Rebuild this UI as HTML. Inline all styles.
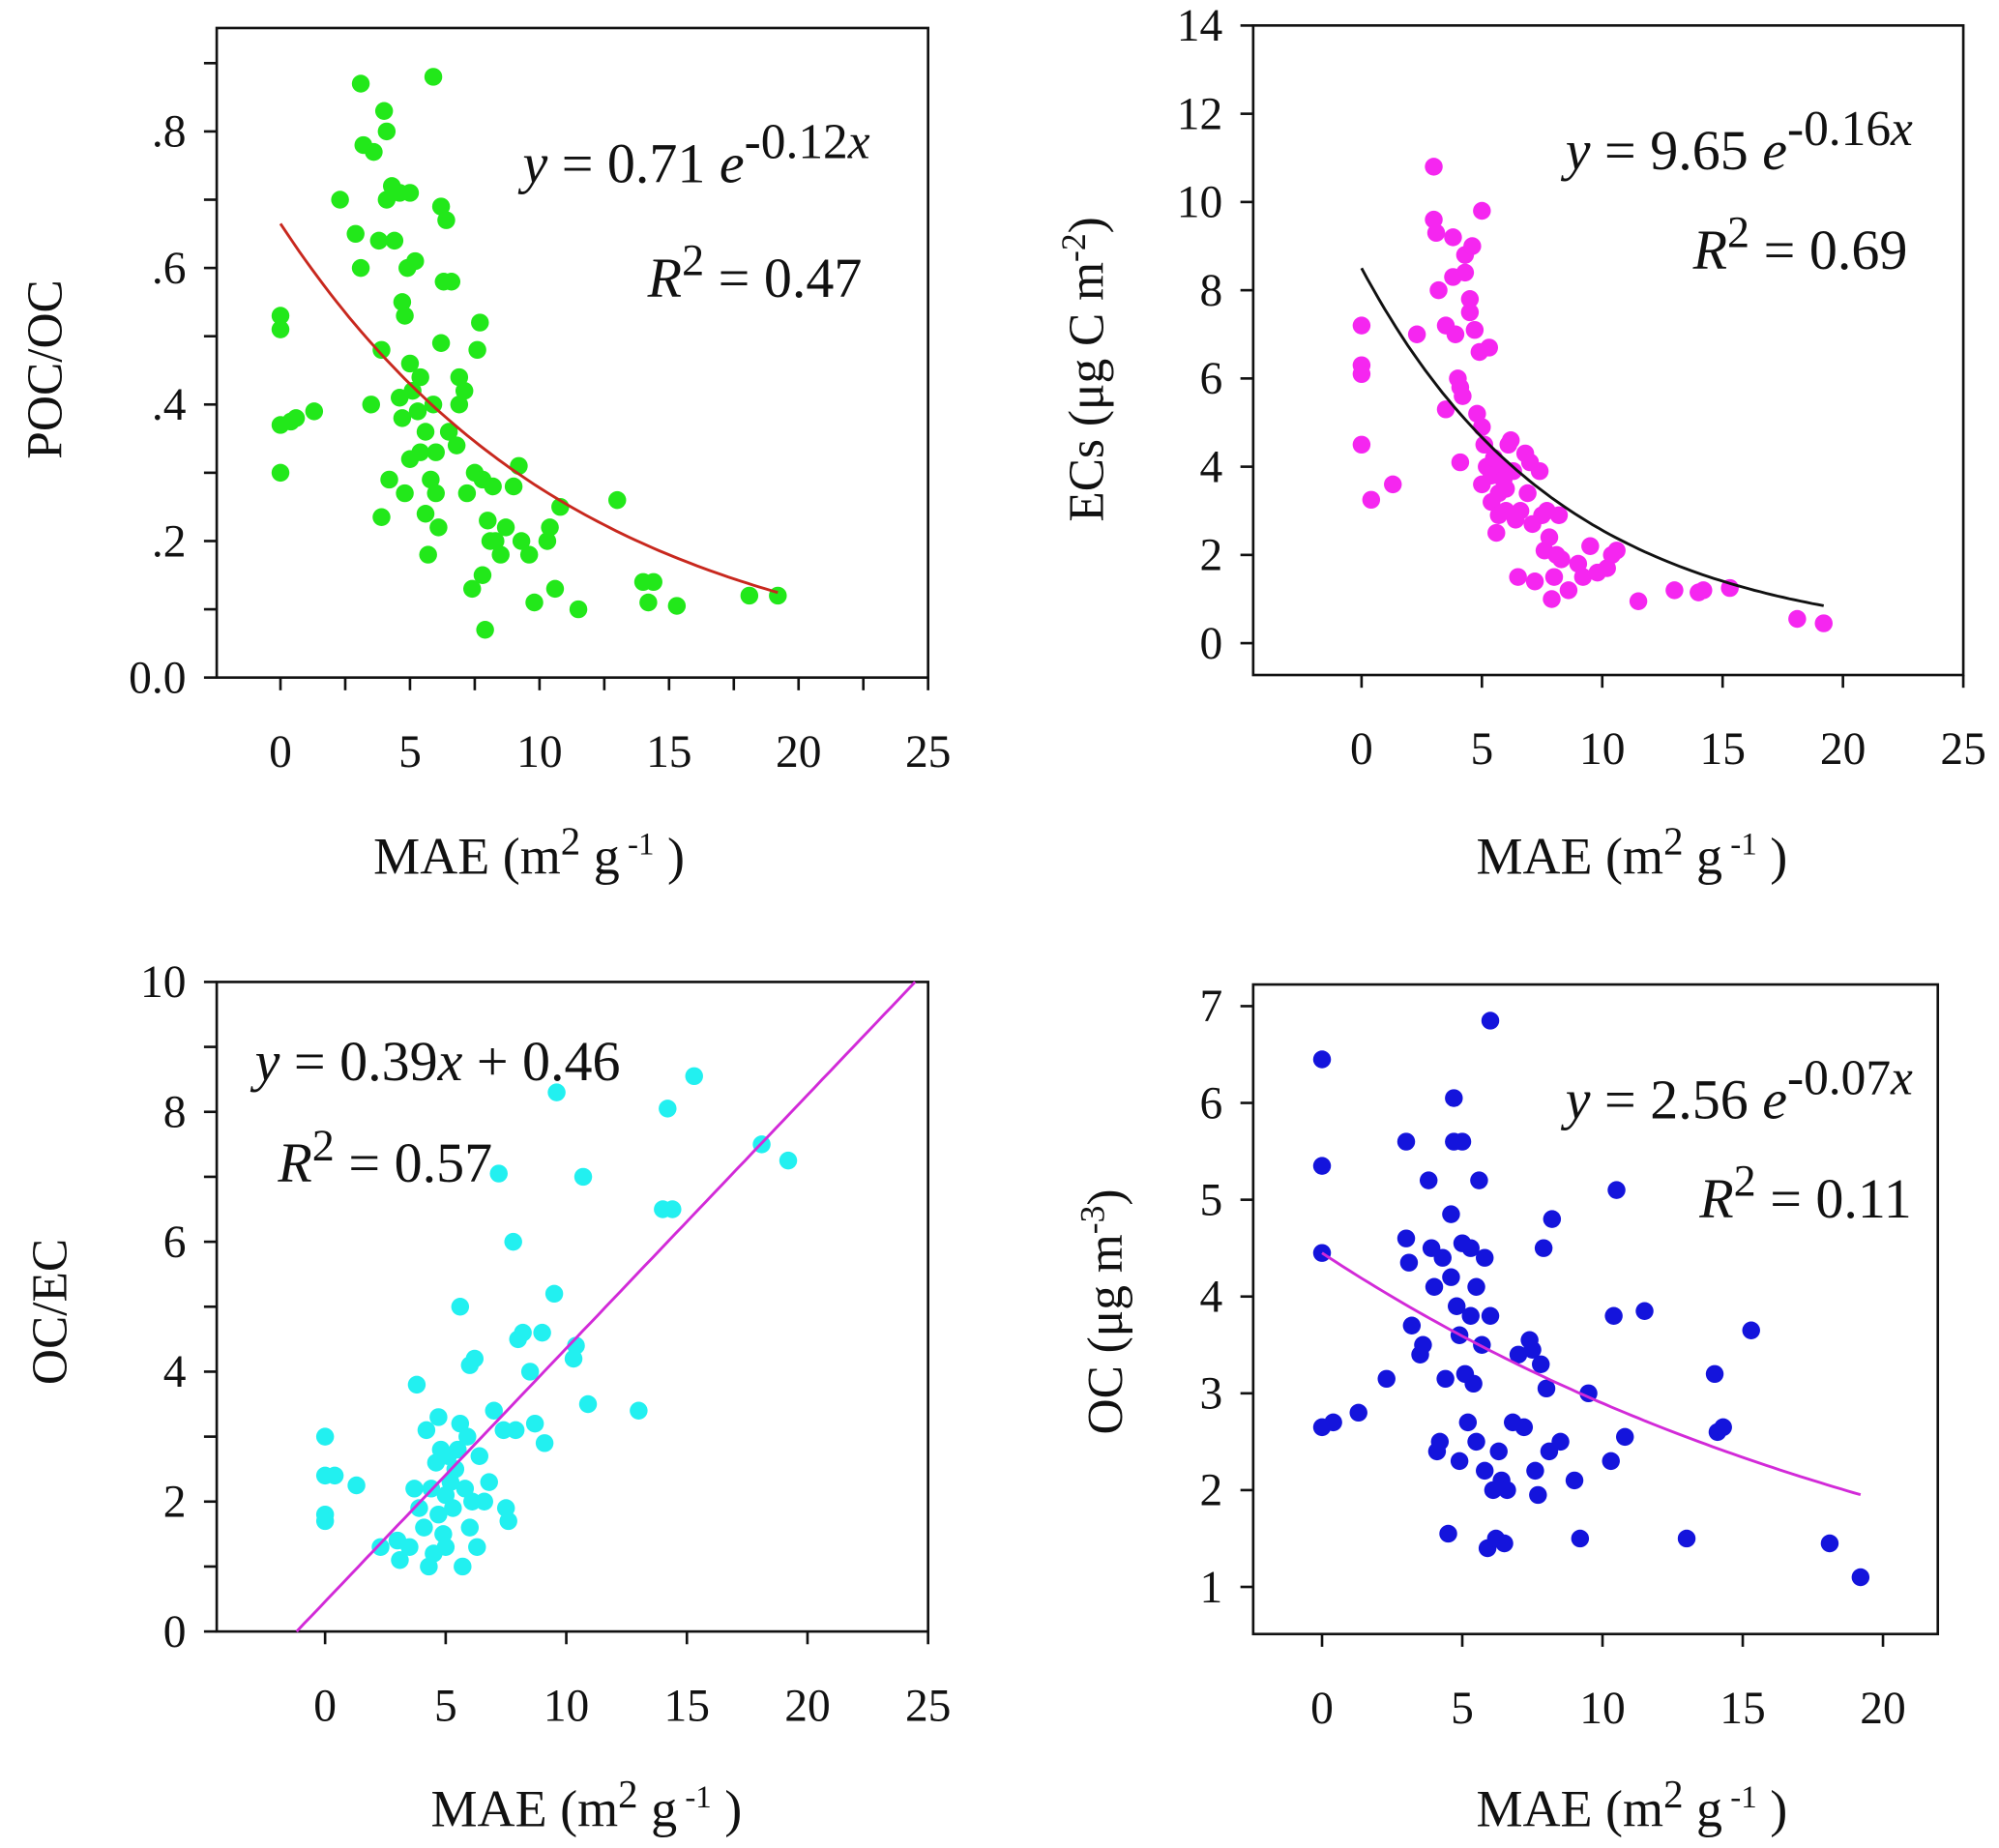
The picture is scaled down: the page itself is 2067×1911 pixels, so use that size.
<!DOCTYPE html>
<html><head><meta charset="utf-8"><style>
html,body{margin:0;padding:0;background:#fff}
svg{display:block}
text{font-family:"Liberation Serif",serif;fill:#111}
</style></head><body>
<svg id="fig" width="2067" height="1911" viewBox="0 0 1568 1451" preserveAspectRatio="none" xmlns="http://www.w3.org/2000/svg">
<rect width="1568" height="1451" fill="#fff"/>
</svg>
<script>
// Panel A: POC/OC vs MAE
const aX=[0,0,0,0,0.4,0.6,1.3,2.3,2.9,3.1,3.1,3.2,3.6,3.5,3.8,3.9,3.9,4.0,4.1,4.1,4.2,4.3,4.4,4.6,4.7,4.8,4.7,4.6,4.8,4.9,5.0,5.0,5.0,5.2,5.1,5.3,5.4,5.4,5.6,5.6,5.7,5.8,5.9,5.9,6.0,6.0,6.1,6.2,6.2,6.3,6.4,6.5,6.6,6.8,6.9,6.9,7.1,7.2,7.4,7.5,7.6,7.7,7.8,7.8,7.9,8.0,8.1,8.2,8.3,8.5,8.7,9.0,9.2,9.3,9.6,9.8,10.3,10.4,10.6,10.8,11.5,13.0,14.0,14.2,14.4,15.3,18.1,19.2];
const aY=[0.53,0.51,0.37,0.30,0.375,0.38,0.39,0.70,0.65,0.60,0.87,0.78,0.77,0.40,0.64,0.48,0.235,0.83,0.80,0.70,0.29,0.72,0.64,0.71,0.55,0.53,0.38,0.41,0.27,0.60,0.71,0.46,0.32,0.61,0.42,0.39,0.33,0.44,0.36,0.24,0.18,0.29,0.40,0.88,0.33,0.27,0.22,0.69,0.49,0.58,0.67,0.36,0.58,0.34,0.44,0.40,0.42,0.27,0.13,0.30,0.48,0.52,0.29,0.15,0.07,0.23,0.20,0.28,0.20,0.18,0.22,0.28,0.31,0.20,0.18,0.11,0.20,0.22,0.13,0.25,0.10,0.26,0.14,0.11,0.14,0.105,0.12,0.12];
const aYTicks=[0,0.2,0.4,0.6,0.8];
const aYLabels=["0.0",".2",".4",".6",".8"];
// Panel B: ECs vs MAE
const bX=[0,0,0,0,0.4,1.3,2.3,3.0,3.0,3.1,3.2,3.5,3.5,3.8,3.8,3.9,4.0,4.1,4.1,4.2,4.3,4.3,4.5,4.5,4.6,4.7,4.8,4.9,5.0,5.0,5.0,5.1,5.2,5.3,5.4,5.4,5.5,5.6,5.7,5.7,5.8,5.9,6.0,6.0,6.1,6.2,6.3,6.4,6.5,6.6,6.8,6.9,7.0,7.1,7.2,7.4,7.5,7.6,7.7,7.8,7.9,8.0,8.1,8.2,8.3,8.6,9.0,9.2,9.5,9.8,10.2,10.4,10.6,11.5,13.0,14.0,14.2,15.3,18.1,19.2];
const bY=[7.2,6.3,6.1,4.5,3.25,3.6,7.0,10.8,9.6,9.3,8.0,7.2,5.3,9.2,8.3,7.0,6.0,5.8,4.1,5.6,8.4,8.8,7.8,7.5,9.0,7.1,5.2,6.6,9.8,4.9,3.6,4.5,4.0,6.7,3.8,3.2,4.2,2.5,3.4,2.9,4.0,3.7,3.5,3.0,4.5,4.6,3.9,2.8,1.5,3.0,4.3,3.4,4.1,2.7,1.4,3.9,2.9,2.1,3.0,2.4,1.0,1.5,2.0,2.9,1.9,1.2,1.8,1.5,2.2,1.6,1.7,2.0,2.1,0.95,1.2,1.15,1.2,1.25,0.55,0.45];
const bYTicks=[0,2,4,6,8,10,12,14];
// Panel C: OC/EC vs MAE
const cX=[0,0,0,0,0.4,1.3,2.3,3.0,3.1,3.5,3.7,3.8,3.9,4.1,4.2,4.3,4.4,4.5,4.6,4.7,4.7,4.8,4.9,5.0,5.0,5.1,5.2,5.3,5.4,5.5,5.6,5.6,5.7,5.8,5.9,6.0,6.0,6.1,6.2,6.3,6.4,6.6,6.8,7.0,7.2,7.4,7.5,7.6,7.8,7.9,8.0,8.2,8.5,8.7,9.0,9.1,9.5,9.6,10.3,10.4,10.7,10.9,13.0,14.0,14.2,14.4,15.3,18.1,19.2];
const cY=[3.0,2.4,1.8,1.7,2.4,2.25,1.3,1.4,1.1,1.3,2.2,3.8,1.9,1.6,3.1,1.0,2.2,1.2,2.6,3.3,1.8,2.8,1.5,2.1,1.3,2.7,2.3,1.9,2.5,2.8,5.0,3.2,1.0,2.2,3.0,1.6,4.1,2.0,4.2,1.3,2.7,2.0,2.3,3.4,7.05,3.1,1.9,1.7,6.0,3.1,4.5,4.6,4.0,3.2,4.6,2.9,5.2,8.3,4.2,4.4,7.0,3.5,3.4,6.5,8.05,6.5,8.55,7.5,7.25];
const cYTicks=[0,2,4,6,8,10];
// Panel D: OC vs MAE
const dX=[0,0,0,0,0.4,1.3,2.3,3.0,3.0,3.1,3.2,3.5,3.6,3.8,3.9,4.0,4.1,4.2,4.3,4.4,4.5,4.6,4.6,4.7,4.7,4.8,4.9,4.9,5.0,5.0,5.1,5.2,5.3,5.3,5.4,5.5,5.5,5.6,5.7,5.8,5.8,5.9,6.0,6.0,6.1,6.2,6.3,6.4,6.5,6.6,6.8,7.0,7.2,7.4,7.5,7.6,7.7,7.8,7.9,8.0,8.1,8.2,8.5,9.0,9.2,9.5,10.3,10.4,10.5,10.8,11.5,13.0,14.0,14.1,14.3,15.3,18.1,19.2];
const dY=[6.45,5.35,4.45,2.65,2.7,2.8,3.15,4.6,5.6,4.35,3.7,3.4,3.5,5.2,4.5,4.1,2.4,2.5,4.4,3.15,1.55,4.85,4.2,6.05,5.6,3.9,3.6,2.3,4.55,5.6,3.2,2.7,3.8,4.5,3.1,2.5,4.1,5.2,3.5,4.4,2.2,1.4,6.85,3.8,2.0,1.5,2.4,2.1,1.45,2.0,2.7,3.4,2.65,3.55,3.45,2.2,1.95,3.3,4.5,3.05,2.4,4.8,2.5,2.1,1.5,3.0,2.3,3.8,5.1,2.55,3.85,1.5,3.2,2.6,2.65,3.65,1.45,1.1];
const xTicks=[0,5,10,15,20,25];

const svg=document.getElementById('fig');
const NS='http://www.w3.org/2000/svg';
function mk(tag,attrs,parent){const e=document.createElementNS(NS,tag);for(const k in attrs)e.setAttribute(k,attrs[k]);(parent||svg).appendChild(e);return e;}

function panel(o){
  const g=mk('g',{});
  
  
  const sx=v=>o.px0+(v-o.x0)*o.kx;
  const sy=v=>o.py0-(v-o.y0)*o.ky;
  const box=mk('rect',{x:o.L,y:o.T,width:o.R-o.L,height:o.B-o.T,fill:'none',stroke:'#111','stroke-width':2},g);
  
  
  o.yTicks.forEach((v,i)=>{
    const y=sy(v);
    mk('line',{x1:o.L-10,x2:o.L,y1:y,y2:y,stroke:'#111','stroke-width':2},g);
    const t=mk('text',{x:o.L-24,y:y+12,'text-anchor':'end','font-size':36},g);
    t.textContent=o.yLabels?o.yLabels[i]:String(v);
    
    
    if(o.minorY&&i<o.yTicks.length-1){const m=sy(v+o.minorY);mk('line',{x1:o.L-10,x2:o.L,y1:m,y2:m,stroke:'#111','stroke-width':2},g);}
  });
  if(o.minorY){const v=o.yTicks[o.yTicks.length-1]+o.minorY;const m=sy(v);if(m>o.T)mk('line',{x1:o.L-10,x2:o.L,y1:m,y2:m,stroke:'#111','stroke-width':2},g);}
  o.xTicks.forEach((v,i)=>{
    const x=sx(v);
    mk('line',{x1:x,x2:x,y1:o.B,y2:o.B+10,stroke:'#111','stroke-width':2},g);
    if(o.minorX&&i<o.xTicks.length-1){const m=sx(v+o.minorX);if(m<o.R)mk('line',{x1:m,x2:m,y1:o.B,y2:o.B+10,stroke:'#111','stroke-width':2},g);}
    const t=mk('text',{x:x,y:o.B+70,'text-anchor':'middle','font-size':36},g);
    t.textContent=String(v);
    
    
  });
  if(o.minorX&&sx(o.xTicks[0]-o.minorX)>o.L){const m=sx(o.xTicks[0]-o.minorX);mk('line',{x1:m,x2:m,y1:o.B,y2:o.B+10,stroke:'#111','stroke-width':2},g);}
  o.xs.forEach((xv,i)=>{
    const c=mk('circle',{cx:sx(xv),cy:sy(o.ys[i]),r:7,fill:o.color},g);
    
    
  });
  let d='';
  for(let k=0;k<=80;k++){const xv=o.f0+(o.f1-o.f0)*k/80;d+=(k?'L':'M')+sx(xv).toFixed(1)+' '+sy(o.fit(xv)).toFixed(1);}
  const p=mk('path',{d:d,fill:'none',stroke:o.fitColor,'stroke-width':2.2},g);
  
  
  const xt=mk('text',{x:o.xtX,y:o.xtY,'text-anchor':'middle','font-size':41},g);
  xt.innerHTML='MAE (m<tspan dy="-15" font-size="31">2</tspan><tspan dy="15"> g</tspan><tspan dy="-15" font-size="25"> -1</tspan><tspan dy="15"> )</tspan>';
  
  
  const yt=mk('text',{transform:`translate(${o.ytX},${o.ytY}) rotate(-90)`,'text-anchor':'middle','font-size':39},g);
  yt.innerHTML=o.ytitle;
  
  
  const eq=mk('text',{x:o.eqX,y:o.eqY,'font-size':44},g);
  eq.innerHTML=o.eq;
  
  
  const r2=mk('text',{x:o.r2X,y:o.r2Y,'font-size':44},g);
  r2.innerHTML='<tspan font-style="italic">R</tspan><tspan dy="-17" font-size="35">2</tspan><tspan dy="17"> = '+o.r2+'</tspan>';
  
  
}
const expEq=(a,b)=>'<tspan font-style="italic">y</tspan> = '+a+' <tspan font-style="italic">e</tspan><tspan dy="-19" font-size="39">'+b+'<tspan font-style="italic">x</tspan></tspan>';

panel({name:'panel-poc-oc',L:170,R:728,T:22,B:532,x0:0,px0:220,kx:20.32,y0:0,py0:532,ky:536,
  xs:aX,ys:aY,color:'#22e81a',fitColor:'#c8281e',fit:x=>0.665*Math.exp(-0.0872*x),f0:0,f1:19.2,
  yTicks:aYTicks,yLabels:aYLabels,minorY:0.1,xTicks:xTicks,minorX:2.5,
  xtX:415,xtY:686,ytX:48,ytY:290,ytitle:'POC/OC',
  eq:expEq('0.71','-0.12'),eqX:410,eqY:143,r2:'0.47',r2X:508,r2Y:233});
panel({name:'panel-ecs',L:983,R:1540,T:20,B:530,x0:0,px0:1068,kx:18.88,y0:0,py0:505,ky:34.64,
  xs:bX,ys:bY,color:'#f526f0',fitColor:'#111',fit:x=>8.5*Math.exp(-0.12*x),f0:0,f1:19.2,
  yTicks:bYTicks,xTicks:xTicks,
  xtX:1280,xtY:686,ytX:865,ytY:290,ytitle:'ECs (μg C m<tspan dy="-14" font-size="27">-2</tspan><tspan dy="14">)</tspan>',
  eq:expEq('9.65','-0.16'),eqX:1228,eqY:133,r2:'0.69',r2X:1328,r2Y:211});
panel({name:'panel-oc-ec',L:170,R:728,T:771,B:1281,x0:0,px0:255,kx:18.92,y0:0,py0:1281,ky:51,
  xs:cX,ys:cY,color:'#22f0f0',fitColor:'#d22ad8',fit:x=>0.39*x+0.46,f0:-1.18,f1:24.46,
  yTicks:cYTicks,minorY:1,xTicks:xTicks,
  xtX:460,xtY:1434,ytX:52,ytY:1030,ytitle:'OC/EC',
  eq:'<tspan font-style="italic">y</tspan> = 0.39<tspan font-style="italic">x</tspan> + 0.46',eqX:200,eqY:848,r2:'0.57',r2X:218,r2Y:928});
panel({name:'panel-oc',L:983,R:1520,T:773,B:1283,x0:0,px0:1037,kx:22,y0:1,py0:1246,ky:76,
  xs:dX,ys:dY,color:'#1414dc',fitColor:'#d22ad8',fit:x=>4.45*Math.exp(-0.0429*x),f0:0,f1:19.2,
  yTicks:[1,2,3,4,5,6,7],xTicks:[0,5,10,15,20],
  xtX:1280,xtY:1434,ytX:880,ytY:1030,ytitle:'OC (μg m<tspan dy="-14" font-size="27">-3</tspan><tspan dy="14">)</tspan>',
  eq:expEq('2.56','-0.07'),eqX:1228,eqY:878,r2:'0.11',r2X:1333,r2Y:956});
</script>
</body></html>
